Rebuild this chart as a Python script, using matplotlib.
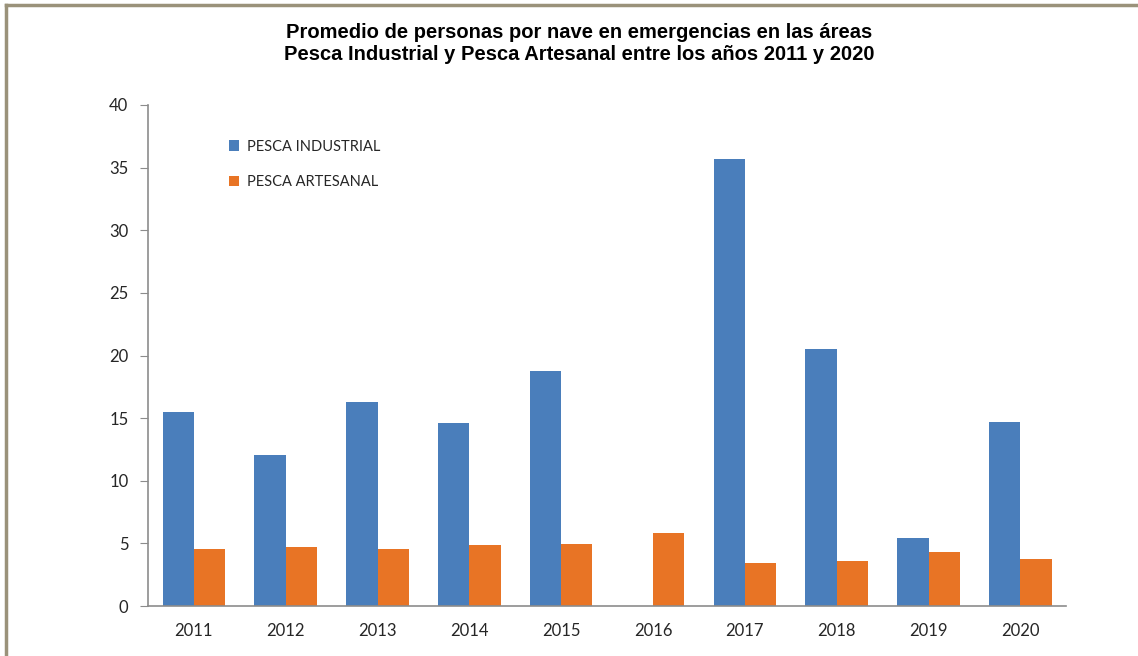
import matplotlib

matplotlib.use("Agg")
import matplotlib.pyplot as plt
from matplotlib.lines import Line2D
import numpy as np

years = ["2011", "2012", "2013", "2014", "2015", "2016", "2017", "2018", "2019", "2020"]
industrial = [15.5, 12.1, 16.3, 14.6, 18.75, 0.0, 35.65, 20.5, 5.45, 14.7]
artesanal = [4.6, 4.7, 4.6, 4.85, 4.95, 5.85, 3.45, 3.6, 4.3, 3.75]

BLUE = "#4a7ebb"
ORANGE = "#e87425"
AXIS = "#8c8c8c"

fig = plt.figure(figsize=(11.38, 6.56), dpi=100)
ax = fig.add_axes([0.130, 0.076, 0.807, 0.764])

x = np.arange(len(years))
w = 0.34
ax.bar(x - w / 2, industrial, w, color=BLUE, label="PESCA INDUSTRIAL")
ax.bar(x + w / 2, artesanal, w, color=ORANGE, label="PESCA ARTESANAL")

ax.set_xlim(-0.5, len(years) - 0.5)
ax.set_ylim(0, 40)
ax.set_yticks(range(0, 41, 5))
ax.set_xticks(x)
ax.set_xticklabels(years)

for side in ("top", "right"):
    ax.spines[side].set_visible(False)
for side in ("left", "bottom"):
    ax.spines[side].set_color(AXIS)
    ax.spines[side].set_linewidth(1.2)
ax.tick_params(axis="y", direction="out", length=6, color=AXIS, labelsize=12, pad=8, labelcolor="#262626")
ax.tick_params(axis="x", length=0, labelsize=12, pad=12, labelcolor="#262626")
for lab in ax.get_xticklabels() + ax.get_yticklabels():
    lab.set_family("Lato")

leg = ax.legend(loc="upper left", bbox_to_anchor=(0.074, 0.957), frameon=False,
                prop={"family": "Lato", "size": 10.5}, handlelength=0.7, handleheight=0.7,
                handletextpad=0.5, labelspacing=1.45)
for t in leg.get_texts():
    t.set_color("#262626")

fig.text(0.509, 0.933, "Promedio de personas por nave en emergencias en las áreas\n"
         "Pesca Industrial y Pesca Artesanal entre los años 2011 y 2020",
         ha="center", va="center", fontsize=14.5, fontweight="bold",
         family="Liberation Sans", linespacing=1.2)

# frame around the chart (top and left edges visible)
border = "#9a927a"
fig.add_artist(Line2D([0.005, 1.0], [0.9925, 0.9925], transform=fig.transFigure, color=border, lw=2.5))
fig.add_artist(Line2D([0.005, 0.005], [0.0, 0.9925], transform=fig.transFigure, color=border, lw=2.5))

fig.savefig("out.png", dpi=100)
